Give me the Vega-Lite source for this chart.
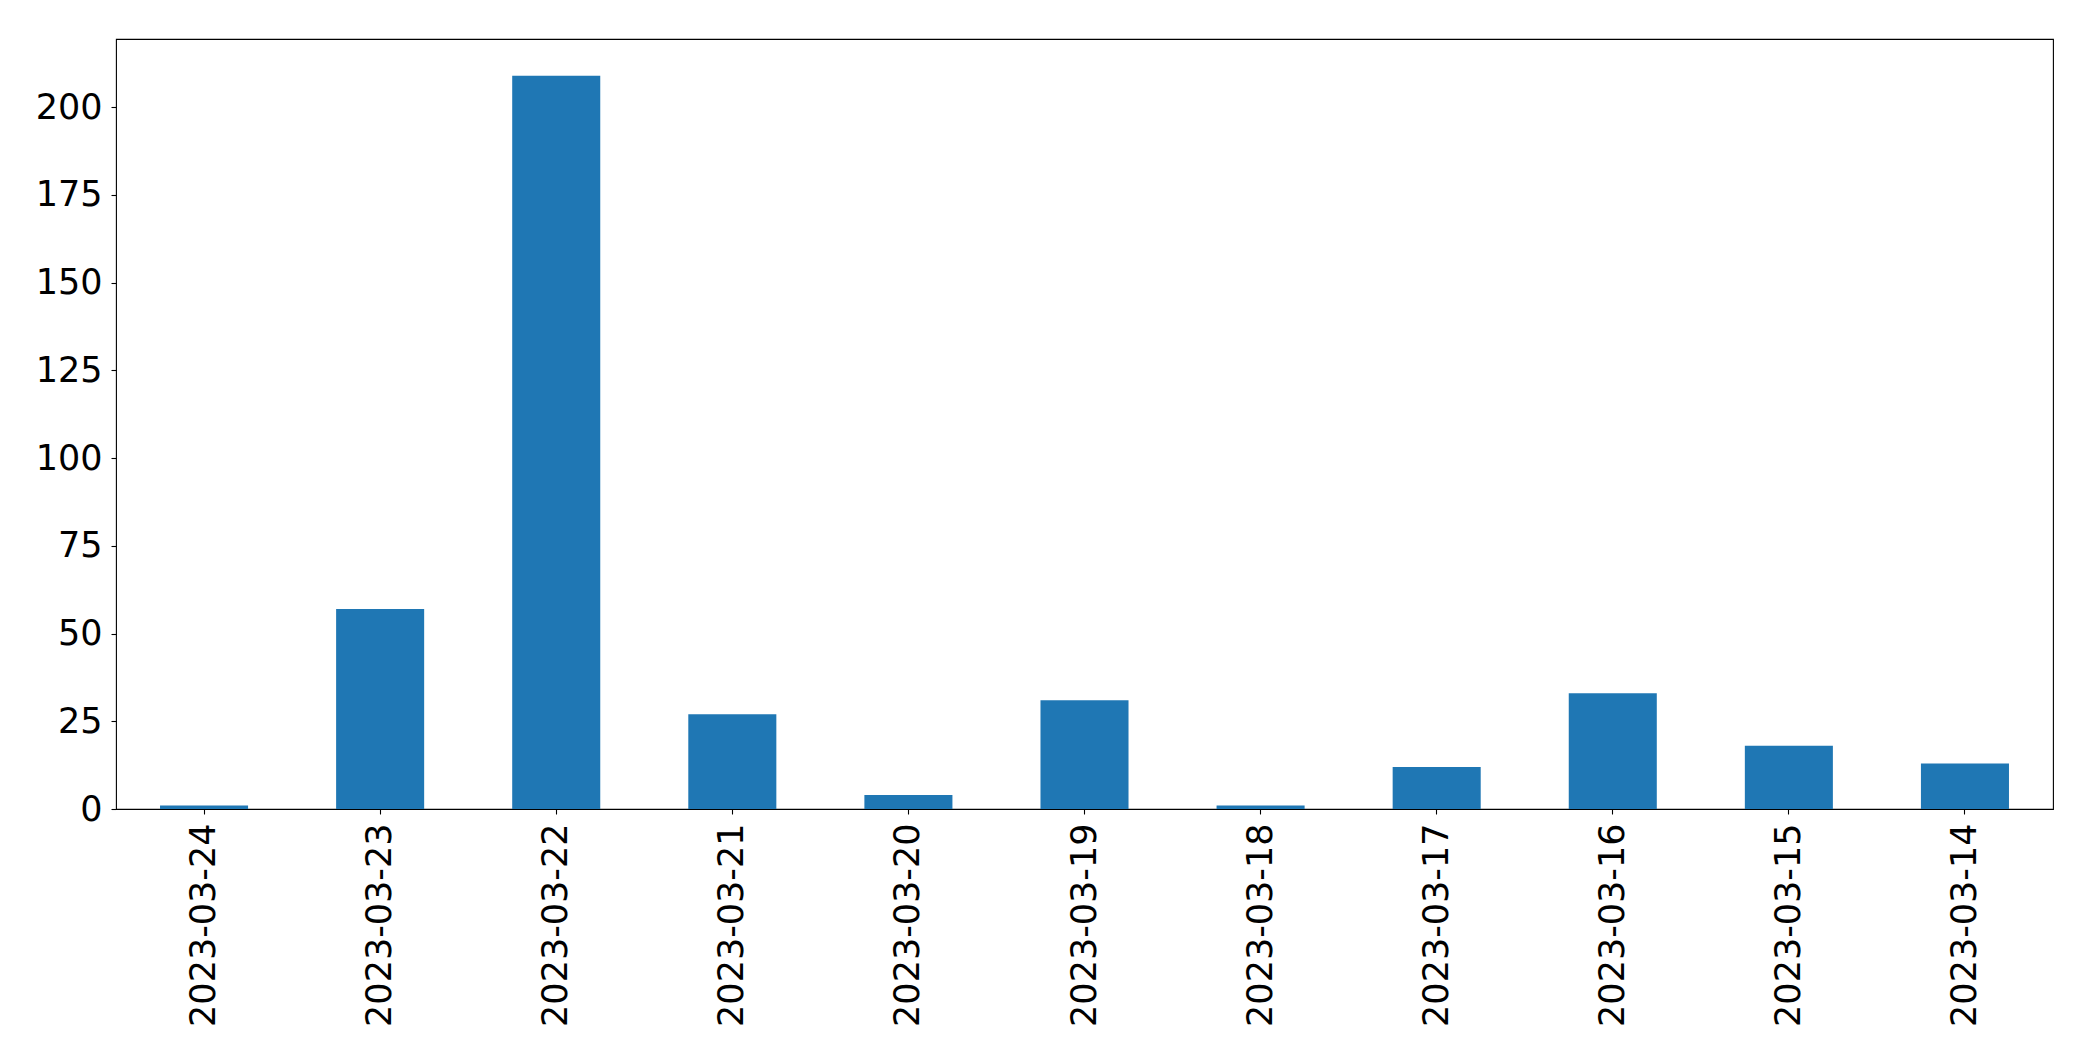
{
  "$schema": "https://vega.github.io/schema/vega-lite/v6.json",
  "width": 1937,
  "height": 770,
  "autosize": {"type": "none"},
  "padding": {"left": 116, "top": 39, "right": 40, "bottom": 252},
  "background": "white",
  "config": {
    "view": {"stroke": "black", "strokeWidth": 1.1},
    "font": "DejaVu Sans",
    "axis": {
      "labelFont": "DejaVu Sans",
      "labelFontSize": 35,
      "labelColor": "black",
      "labelLimit": 1000,
      "tickColor": "black",
      "tickSize": 5,
      "tickWidth": 1.1,
      "domain": false,
      "grid": false,
      "title": null
    }
  },
  "data": {
    "values": [
      {"date": "2023-03-24", "count": 1},
      {"date": "2023-03-23", "count": 57},
      {"date": "2023-03-22", "count": 209},
      {"date": "2023-03-21", "count": 27},
      {"date": "2023-03-20", "count": 4},
      {"date": "2023-03-19", "count": 31},
      {"date": "2023-03-18", "count": 1},
      {"date": "2023-03-17", "count": 12},
      {"date": "2023-03-16", "count": 33},
      {"date": "2023-03-15", "count": 18},
      {"date": "2023-03-14", "count": 13}
    ]
  },
  "mark": {"type": "bar", "color": "#1f77b4"},
  "encoding": {
    "x": {
      "field": "date",
      "type": "nominal",
      "sort": null,
      "scale": {"paddingInner": 0.5, "paddingOuter": 0.25},
      "axis": {"labelAngle": 270, "labelAlign": "right", "labelBaseline": "middle", "labelPadding": 9}
    },
    "y": {
      "field": "count",
      "type": "quantitative",
      "scale": {"domain": [0, 219.45], "nice": false, "zero": true},
      "axis": {"values": [0, 25, 50, 75, 100, 125, 150, 175, 200], "labelPadding": 9}
    }
  }
}
